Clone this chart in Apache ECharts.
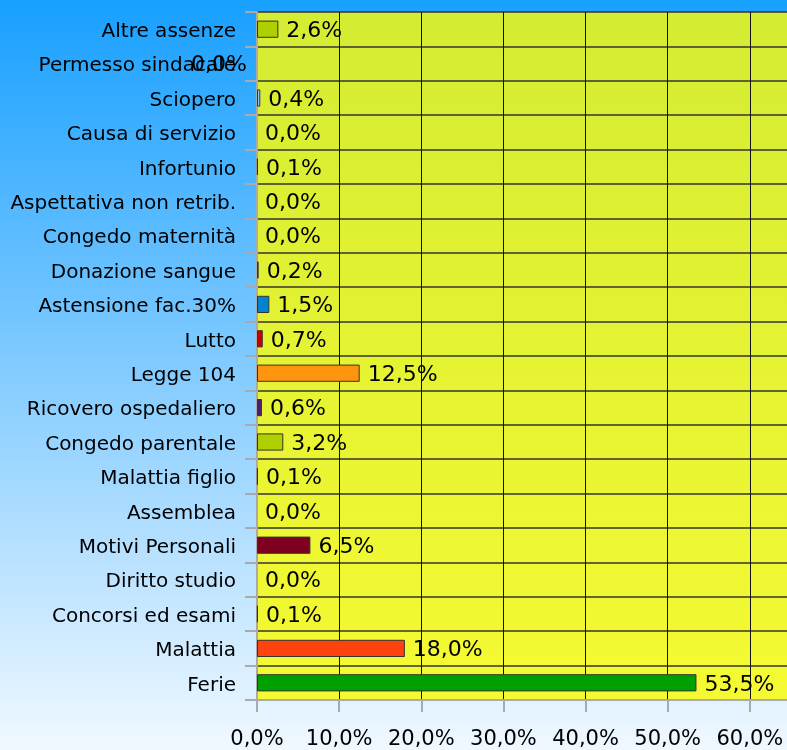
<!DOCTYPE html>
<html>
<head>
<meta charset="utf-8">
<script src="https://cdn.jsdelivr.net/npm/echarts@6/dist/echarts.min.js"></script>
<style>
html,body{margin:0;padding:0;overflow:hidden;width:787px;height:750px;}
#c{width:850px;height:750px;background:linear-gradient(to bottom,#18a0ff 0%,#f0f8ff 100%);}
</style>
</head>
<body>
<div id="c"></div>
<script>
var categories = ["Altre assenze","Permesso sindacale","Sciopero","Causa di servizio","Infortunio","Aspettativa non retrib.","Congedo maternità","Donazione sangue","Astensione fac.30%","Lutto","Legge 104","Ricovero ospedaliero","Congedo parentale","Malattia figlio","Assemblea","Motivi Personali","Diritto studio","Concorsi ed esami","Malattia","Ferie"];
var values = [2.6,0.0,0.4,0.0,0.1,0.0,0.0,0.2,1.5,0.7,12.5,0.6,3.2,0.1,0.0,6.5,0.0,0.1,18.0,53.5];
var colors = ["#aecf00","#ffd320","#83caff","#004586","#314004","#579d1c","#7e0021","#00a000","#0084d1","#c5000b","#ff950e","#4b1f6f","#aecf00","#314004","#ffd320","#7e0021","#004586","#314004","#ff420e","#00a000"];
var xTicks = [0,10,20,30,40,50,60];

function fmt(v){ return v.toFixed(1).replace('.', ',') + '%'; }

var FONT = 'DejaVu Sans';
var data = values.map(function(v,i){
  var item = {value: v, itemStyle: {color: colors[i]}};
  if (v === 0) item.itemStyle.borderWidth = 0;
  if (categories[i] === "Permesso sindacale") {
    item.label = {position: 'left', distance: 10};
  }
  return item;
});

var chart = echarts.init(document.getElementById('c'), null, {renderer:'canvas'});
chart.setOption({
  animation: false,
  grid: {
    left: 257, top: 12, bottom: 48, right: 18,
    show: true,
    borderWidth: 0,
    backgroundColor: new echarts.graphic.LinearGradient(0,0,0,1,[
      {offset:0, color:'#d4ec32'},
      {offset:1, color:'#f5fa32'}
    ])
  },
  xAxis: {
    type: 'value', min: 0, max: 70, interval: 10,
    axisLine: {show: true, lineStyle: {color: '#aaaaaa', width: 2}},
    axisTick: {show: true, length: 12, lineStyle: {color: '#aaaaaa', width: 2}},
    splitLine: {show: true, lineStyle: {color: '#111', width: 1}},
    axisLabel: {
      margin: 29, color: '#000', fontFamily: FONT, fontSize: 21,
      formatter: function(v){ return xTicks.indexOf(v) >= 0 ? fmt(v) : ''; }
    }
  },
  yAxis: {
    type: 'category', data: categories, inverse: true,
    axisLine: {show: true, lineStyle: {color: '#aaaaaa', width: 2}},
    axisTick: {show: true, length: 12, lineStyle: {color: '#aaaaaa', width: 2}},
    splitLine: {show: true, lineStyle: {color: '#333', width: 1.5}},
    axisLabel: {
      margin: 21, color: '#000', fontFamily: FONT, fontSize: 20,
      formatter: function(v){ return '{a|' + v + '}'; },
      rich: {a: {fontFamily: FONT, fontSize: 20, color: '#000', padding: [5,0,0,0]}}
    }
  },
  series: [{
    type: 'bar',
    data: data,
    barWidth: '50%',
    itemStyle: {borderColor: '#333', borderWidth: 1},
    label: {
      show: true, position: 'right', distance: 8, offset: [0, 2],
      color: '#000', fontFamily: FONT, fontSize: 22,
      formatter: function(p){ return fmt(p.value); }
    }
  }]
});
</script>
</body>
</html>
